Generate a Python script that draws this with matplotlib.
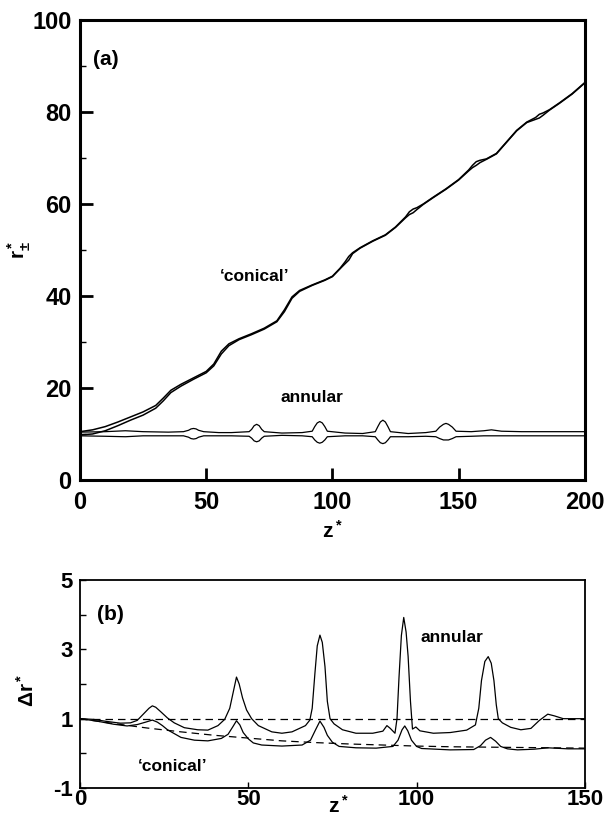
"""
Two-panel figure: radii of the 'conical' and annular jets (a),
and the non-dimensional gap width along z (b).
"""

import matplotlib
matplotlib.use("Agg")
import matplotlib.pyplot as plt

plt.rcParams['font.family'] = ['Liberation Sans', 'DejaVu Sans']
plt.rcParams['font.weight'] = 'bold'
plt.rcParams['mathtext.fontset'] = 'custom'
plt.rcParams['mathtext.rm'] = 'Liberation Sans:bold'
plt.rcParams['mathtext.bf'] = 'Liberation Sans:bold'
plt.rcParams['mathtext.it'] = 'Liberation Sans:bold'

# --- panel (a): conical jet, outer/inner radius ---
cone_z = [0, 5, 10, 15, 20, 25, 30, 33, 36, 40, 45, 50, 53, 56, 59, 63, 68, 73,
          78, 81, 84, 87, 92, 97, 100, 103, 105, 106.5, 108, 111, 116, 121, 125,
          129, 130.5, 132, 133.5, 136, 140, 145, 150, 154, 155.5, 157, 158.5,
          161, 165, 169, 173, 177, 180.5, 182, 183.5, 186, 190, 195, 200]
cone_rp = [10.5, 10.9, 11.6, 12.6, 13.7, 14.8, 16.2, 17.8, 19.5, 20.8, 22.2,
           23.6, 25.2, 28.0, 29.6, 30.7, 31.8, 33.0, 34.6, 37.0, 39.8, 41.2,
           42.4, 43.5, 44.3, 46.0, 47.4, 48.6, 49.4, 50.5, 52.0, 53.3, 55.0,
           57.2, 58.3, 58.9, 59.2, 60.0, 61.5, 63.3, 65.3, 67.4, 68.4, 69.2,
           69.5, 69.8, 71.0, 73.5, 76.0, 77.8, 78.8, 79.5, 79.8, 80.5, 82.0,
           84.0, 86.4]
cone_rm = [9.8, 10.0, 10.7, 11.8, 13.0, 14.1, 15.6, 17.2, 19.0, 20.4, 21.9,
           23.3, 24.8, 27.4, 29.2, 30.5, 31.6, 32.8, 34.4, 36.6, 39.5, 41.0,
           42.3, 43.4, 44.2, 45.9, 47.0, 47.8, 49.2, 50.4, 51.9, 53.2, 54.9,
           57.0, 57.7, 58.1, 58.8, 59.9, 61.4, 63.2, 65.2, 67.2, 67.9, 68.4,
           69.0, 69.7, 70.9, 73.4, 75.9, 77.7, 78.4, 78.7, 79.3, 80.4, 81.9,
           83.9, 86.3]

# --- panel (a): annular jet, outer/inner radius ---
ann_z = [0, 10, 18, 25, 35, 41, 43, 44, 45, 46, 47, 49, 55, 60, 67, 68, 69, 70,
         71, 72, 73, 80, 88, 92, 93, 94, 95, 96, 97, 98, 105, 112, 117, 118, 119,
         120, 121, 122, 123, 130, 137, 141, 142.5, 144, 145, 146, 147.5, 149,
         155, 160, 163, 167, 175, 200]
ann_rp = [10.4, 10.5, 10.7, 10.5, 10.4, 10.5, 10.8, 11.1, 11.2, 11.1, 10.8,
          10.5, 10.3, 10.3, 10.5, 11.0, 11.8, 12.1, 11.8, 11.0, 10.5, 10.2,
          10.3, 10.6, 11.6, 12.4, 12.7, 12.4, 11.6, 10.6, 10.2, 10.1, 10.5,
          11.6, 12.6, 13.0, 12.6, 11.6, 10.5, 10.1, 10.3, 10.6, 11.5, 12.1,
          12.3, 12.1, 11.5, 10.6, 10.5, 10.7, 10.9, 10.6, 10.5, 10.5]
ann_rm = [9.6, 9.5, 9.4, 9.6, 9.6, 9.6, 9.3, 9.0, 8.9, 9.0, 9.3, 9.6, 9.6, 9.6,
          9.5, 9.1, 8.5, 8.3, 8.5, 9.1, 9.5, 9.7, 9.6, 9.4, 8.7, 8.2, 8.0, 8.2,
          8.7, 9.4, 9.6, 9.6, 9.4, 8.7, 8.1, 7.9, 8.1, 8.7, 9.4, 9.4, 9.5, 9.4,
          9.0, 8.7, 8.7, 8.7, 9.0, 9.4, 9.5, 9.6, 9.6, 9.6, 9.6, 9.6]

# --- panel (b): gap width ---
dr_ann_z = [0, 4, 8, 12, 15, 17, 19, 20.5, 21.5, 22.5, 24, 26, 28, 31, 35, 38,
            41, 43, 44.5, 45.5, 46.5, 47.3, 48.3, 49.5, 51, 53, 57, 60, 63, 67,
            68.3, 69, 69.8, 70.5, 71.3, 72, 72.8, 73.5, 74.3, 75.5, 78, 82, 87,
            90, 91.2, 92.2, 93.6, 94.2, 94.8, 95.5, 96.2, 96.9, 97.5, 98.2,
            98.8, 99.8, 101, 105, 110, 114.9, 117.5, 118.5, 119.3, 120.3, 121.3,
            122.2, 123, 123.7, 124.3, 125.5, 128, 131, 134, 136.5, 139, 141,
            143.6, 150]
dr_ann = [1.0, 0.98, 0.92, 0.87, 0.88, 0.95, 1.15, 1.3, 1.37, 1.33, 1.2, 1.02,
          0.88, 0.74, 0.68, 0.67, 0.8, 0.98, 1.3, 1.75, 2.2, 2.0, 1.6, 1.25,
          1.0, 0.8, 0.62, 0.58, 0.62, 0.8, 0.96, 1.3, 2.3, 3.1, 3.41, 3.2, 2.5,
          1.5, 1.0, 0.85, 0.68, 0.58, 0.58, 0.64, 0.8, 0.72, 0.58, 1.0, 2.2,
          3.4, 3.92, 3.5, 2.8, 1.5, 0.7, 0.76, 0.65, 0.58, 0.6, 0.67, 0.82,
          1.3, 2.1, 2.65, 2.79, 2.6, 2.1, 1.4, 1.0, 0.88, 0.75, 0.68, 0.72,
          0.95, 1.13, 1.08, 1.0, 1.0]
dr_cone_z = [0, 5, 10, 14, 17, 19.5, 21.5, 23, 24.5, 26, 30, 34, 38, 42, 44,
             45.5, 46.5, 47.5, 48.5, 50, 51.5, 54, 60, 66, 68.5, 70, 71.3, 72.5,
             73.5, 75, 77, 82, 88, 93, 94.5, 95.7, 96.5, 97.4, 98.5, 100, 101.5,
             110, 117, 119, 120.5, 122, 123.5, 125, 127, 130, 135, 139, 145, 150]
dr_cone = [1.0, 0.93, 0.84, 0.79, 0.83, 0.9, 0.96, 0.9, 0.8, 0.68, 0.46, 0.38,
           0.36, 0.43, 0.55, 0.78, 0.94, 0.82, 0.6, 0.42, 0.3, 0.24, 0.21, 0.24,
           0.38, 0.68, 0.93, 0.75, 0.52, 0.32, 0.2, 0.16, 0.15, 0.2, 0.38, 0.68,
           0.79, 0.65, 0.38, 0.2, 0.14, 0.1, 0.11, 0.22, 0.38, 0.46, 0.35, 0.2,
           0.13, 0.1, 0.12, 0.16, 0.13, 0.13]
ref_z = [0, 10, 20, 30, 40, 50, 60, 70, 80, 90, 100, 110, 120, 130, 140, 150]
ref_decay = [1.0, 0.86, 0.73, 0.62, 0.52, 0.44, 0.36, 0.31, 0.27, 0.24, 0.21,
             0.19, 0.18, 0.17, 0.16, 0.15]
ref_const = [1.0] * len(ref_z)

a_yticks = [0, 20, 40, 60, 80, 100]
a_xticks = [0, 50, 100, 150, 200]
b_yticks = [-1, 1, 3, 5]
b_yticklabels = ['-1', '1', '3', '5']
b_xticks = [0, 50, 100, 150]

fig = plt.figure(figsize=(6.06, 8.16), dpi=100)

# ---------------- panel (a) ----------------
ax1 = fig.add_axes([0.132, 0.4118, 0.833, 0.5637])
ax1.plot(cone_z, cone_rp, 'k-', lw=1.1)
ax1.plot(cone_z, cone_rm, 'k-', lw=1.1)
ax1.plot(ann_z, ann_rp, 'k-', lw=0.9)
ax1.plot(ann_z, ann_rm, 'k-', lw=0.9)
ax1.set_xlim(0, 200)
ax1.set_ylim(0, 100)
ax1.set_yticks(a_yticks)
ax1.set_yticks([10, 30, 50, 70, 90], minor=True)
ax1.set_xticks(a_xticks)
for s in ax1.spines.values():
    s.set_linewidth(2.2)
ax1.tick_params(which='major', direction='in', length=9, width=2,
                labelsize=17, pad=6)
ax1.tick_params(axis='x', which='major', pad=8)
ax1.tick_params(which='minor', direction='in', length=4.5, width=1)
ax1.tick_params(top=False, right=False, which='both')
ax1.text(5.2, 91.5, '(a)', fontsize=15, fontweight='bold', va='center')
ax1.text(69, 44.3, u'\u2018conical\u2019', fontsize=12.5, fontweight='bold',
         ha='center', va='center')
ax1.text(92, 18, 'annular', fontsize=12.5, fontweight='bold',
         ha='center', va='center')
ax1.text(0.5, -0.11, r'$\mathbf{z^*}$', transform=ax1.transAxes,
         fontsize=15, ha='center', va='center')
ax1.text(-0.12, 0.5, r'$\mathbf{r^*_{\pm}}$', transform=ax1.transAxes,
         fontsize=15, ha='center', va='center', rotation=90)

# ---------------- panel (b) ----------------
ax2 = fig.add_axes([0.132, 0.0343, 0.833, 0.2549])
ax2.plot(dr_ann_z, dr_ann, 'k-', lw=0.9)
ax2.plot(dr_cone_z, dr_cone, 'k-', lw=0.9)
ax2.plot(ref_z, ref_const, 'k--', lw=0.9, dashes=(6, 4))
ax2.plot(ref_z, ref_decay, 'k--', lw=0.9, dashes=(6, 4))
ax2.set_xlim(0, 150)
ax2.set_ylim(-1, 5)
ax2.set_yticks(b_yticks)
ax2.set_yticklabels(b_yticklabels)
ax2.set_yticks([0, 2, 4], minor=True)
ax2.set_xticks(b_xticks)
for s in ax2.spines.values():
    s.set_linewidth(1.3)
ax2.tick_params(which='major', direction='in', length=4.5, width=1,
                labelsize=16, pad=5)
ax2.tick_params(axis='x', which='major', pad=1)
ax2.tick_params(which='minor', direction='in', length=4.5, width=1)
ax2.tick_params(top=False, right=False, which='both')
ax2.text(5.2, 4.0, '(b)', fontsize=15, fontweight='bold', va='center')
ax2.text(110.5, 3.33, 'annular', fontsize=12.5, fontweight='bold',
         ha='center', va='center')
ax2.text(27.6, -0.39, u'\u2018conical\u2019', fontsize=12.5, fontweight='bold',
         ha='center', va='center')
ax2.text(0.511, -0.085, r'$\mathbf{z^*}$', transform=ax2.transAxes,
         fontsize=15, ha='center', va='center')
ax2.text(-0.105, 0.47, r'$\mathbf{\Delta r^*}$', transform=ax2.transAxes,
         fontsize=15, ha='center', va='center', rotation=90)

fig.savefig('out.png', dpi=100)
